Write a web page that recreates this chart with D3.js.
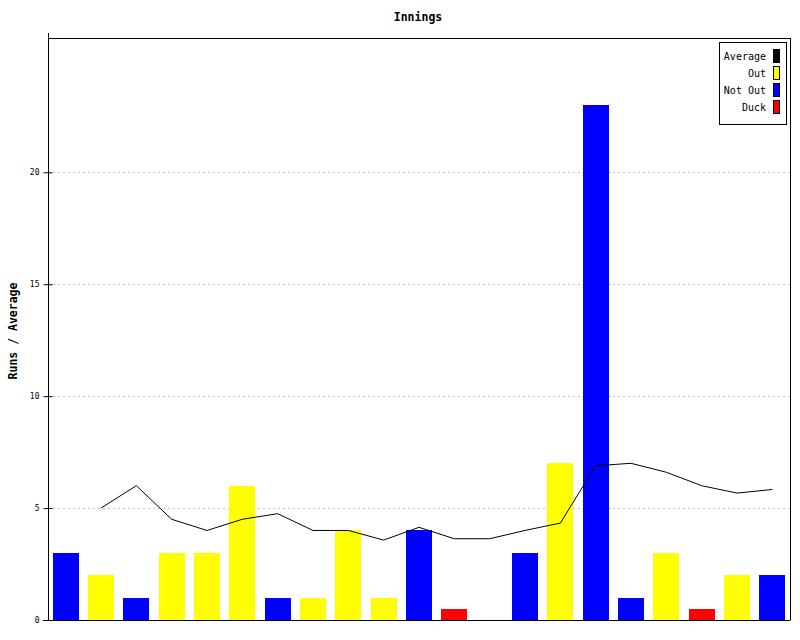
<!DOCTYPE html>
<html>
<head>
<meta charset="utf-8">
<script src="https://cdn.jsdelivr.net/npm/d3@7"></script>
<style>
  body { margin: 0; background: #fff; }
  svg { display: block; }
  text { font-family: "DejaVu Sans Mono", monospace; fill: #000; }
</style>
</head>
<body>
<svg id="chart" width="800" height="640"></svg>
<script>
// Data
const innings = d3.range(1, 22).map(String);
const runs = [3, 2, 1, 3, 3, 6, 1, 1, 4, 1, 4, 0.5, 0, 3, 7, 23, 1, 3, 0.5, 2, 2];
const kinds = ["Not Out", "Out", "Not Out", "Out", "Out", "Out", "Not Out", "Out", "Out", "Out", "Not Out", "Duck", "Not Out", "Not Out", "Out", "Not Out", "Not Out", "Out", "Duck", "Out", "Not Out"];
const average = [null, 5, 6, 4.5, 4, 4.5, 4.75, 4, 4, 3.57, 4.14, 3.63, 3.63, 4, 4.33, 6.89, 7, 6.6, 6, 5.67, 5.83];
const yTicks = [0, 5, 10, 15, 20];
const legendItems = ["Average", "Out", "Not Out", "Duck"];
const legendColors = ["#000000", "#ffff00", "#0000ff", "#ff0000"];
const title = "Innings";
const yLabel = "Runs / Average";

const colorOf = d3.scaleOrdinal().domain(legendItems).range(legendColors);

const svg = d3.select("#chart");
const margin = { left: 48, right: 10, top: 38, bottom: 20 };
const W = 800, H = 640;
const x = d3.scaleBand().domain(innings).range([margin.left, W - margin.right]).paddingInner(0.26).paddingOuter(0.13);
const y = d3.scaleLinear().domain([0, 26]).range([H - margin.bottom, margin.top]);

// Gridlines
svg.append("g").selectAll("line").data(yTicks.filter(t => t > 0)).join("line")
  .attr("x1", margin.left).attr("x2", W - margin.right)
  .attr("y1", d => Math.round(y(d)) + 0.5).attr("y2", d => Math.round(y(d)) + 0.5)
  .attr("stroke", "#c0c0c0").attr("stroke-dasharray", "2,3");

// Frame top and right
svg.append("line").attr("x1", margin.left).attr("x2", W - margin.right + 0.5)
  .attr("y1", margin.top + 0.5).attr("y2", margin.top + 0.5).attr("stroke", "#000");
svg.append("line").attr("x1", W - margin.right + 0.5).attr("x2", W - margin.right + 0.5)
  .attr("y1", margin.top).attr("y2", H - margin.bottom).attr("stroke", "#000");

// Bars
svg.append("g").selectAll("rect").data(runs).join("rect")
  .attr("x", (d, i) => x(innings[i]))
  .attr("width", x.bandwidth())
  .attr("y", d => y(d))
  .attr("height", d => y(0) - y(d))
  .attr("fill", (d, i) => colorOf(kinds[i]))
  .attr("shape-rendering", "crispEdges");

// Average line
const line = d3.line()
  .defined(d => d != null)
  .x((d, i) => x(innings[i]) + x.bandwidth() / 2)
  .y(d => y(d));
svg.append("path").datum(average).attr("d", line)
  .attr("fill", "none").attr("stroke", "#000").attr("stroke-width", 1);

// Axes
const yAxis = d3.axisLeft(y).tickValues(yTicks).tickSize(5).tickPadding(4);
const gy = svg.append("g").attr("transform", `translate(${margin.left + 0.5},0)`).call(yAxis);
gy.select(".domain").remove();
gy.selectAll(".tick line").attr("x2", -5).attr("x1", 4);
gy.selectAll("text").attr("font-size", 8).attr("font-family", "DejaVu Sans Mono, monospace").attr("fill", "#000");
svg.append("line").attr("x1", margin.left + 0.5).attr("x2", margin.left + 0.5)
  .attr("y1", margin.top - 5).attr("y2", H - margin.bottom).attr("stroke", "#000");
svg.append("line").attr("x1", margin.left - 5).attr("x2", W - margin.right + 0.5)
  .attr("y1", H - margin.bottom + 0.5).attr("y2", H - margin.bottom + 0.5).attr("stroke", "#000");

// Title
svg.append("text").attr("x", 418).attr("y", 21).attr("text-anchor", "middle")
  .attr("font-size", 11.5).attr("font-weight", "bold").text(title);

// Y label
svg.append("text").attr("transform", "translate(17,331) rotate(-90)").attr("text-anchor", "middle")
  .attr("font-size", 11.5).attr("font-weight", "bold").text(yLabel);

// Legend
const lg = svg.append("g");
lg.append("rect").attr("x", 719.5).attr("y", 42.5).attr("width", 67).attr("height", 82)
  .attr("fill", "#fff").attr("stroke", "#000");
legendItems.forEach((name, i) => {
  const cy = 56 + i * 17;
  lg.append("text").attr("x", 766).attr("y", cy + 4).attr("text-anchor", "end")
    .attr("font-size", 10).text(name);
  lg.append("rect").attr("x", 773.5).attr("y", cy - 6.5).attr("width", 6).attr("height", 13)
    .attr("fill", legendColors[i]).attr("stroke", "#000");
});
</script>
</body>
</html>
